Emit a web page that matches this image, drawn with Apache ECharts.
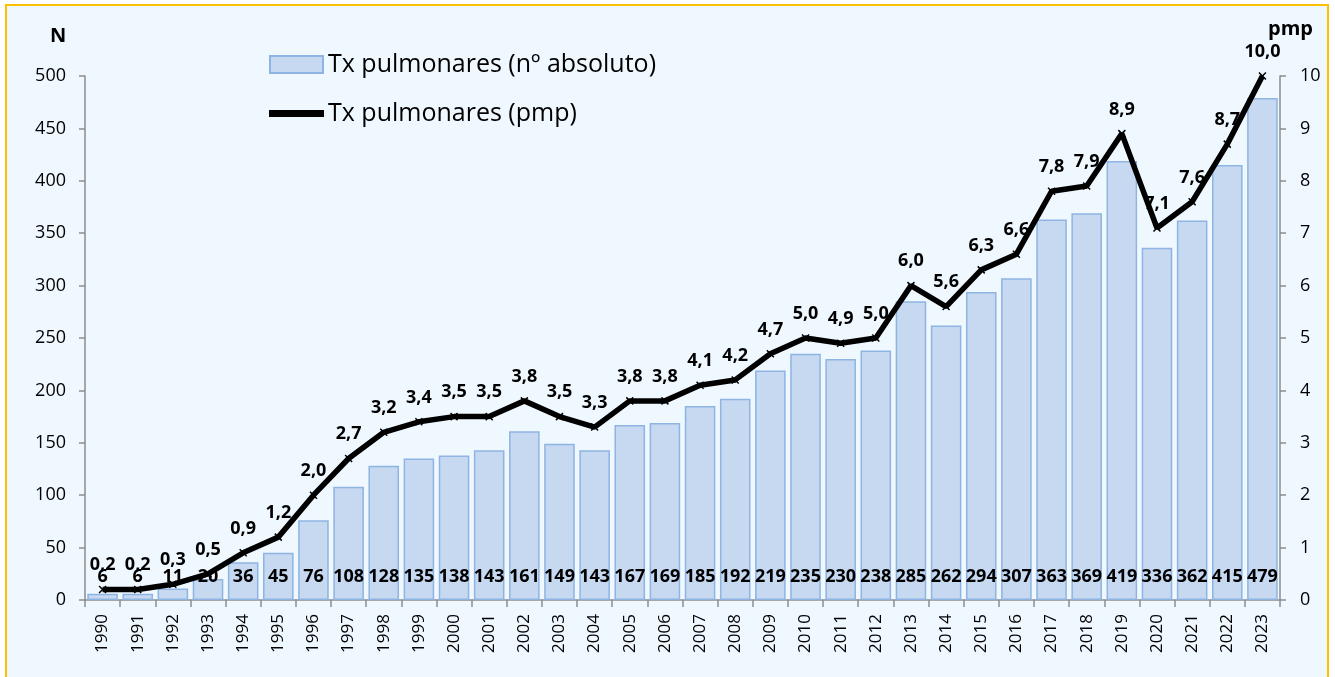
<!DOCTYPE html>
<html>
<head>
<meta charset="utf-8">
<script src="https://cdn.jsdelivr.net/npm/echarts@6/dist/echarts.min.js"></script>
<style>
html,body{margin:0;padding:0;background:#fff;}
#chart{width:1335px;height:677px;}
</style>
</head>
<body>
<div id="chart"></div>
<script>
const years = ['1990','1991','1992','1993','1994','1995','1996','1997','1998','1999','2000','2001','2002','2003','2004','2005','2006','2007','2008','2009','2010','2011','2012','2013','2014','2015','2016','2017','2018','2019','2020','2021','2022','2023'];
const txAbsolute = [6,6,11,20,36,45,76,108,128,135,138,143,161,149,143,167,169,185,192,219,235,230,238,285,262,294,307,363,369,419,336,362,415,479];
const txPmp = [0.2,0.2,0.3,0.5,0.9,1.2,2.0,2.7,3.2,3.4,3.5,3.5,3.8,3.5,3.3,3.8,3.8,4.1,4.2,4.7,5.0,4.9,5.0,6.0,5.6,6.3,6.6,7.8,7.9,8.9,7.1,7.6,8.7,10.0];
const leftTicks = {min:0,max:500,interval:50};
const rightTicks = {min:0,max:10,interval:1};
const seriesNames = ['Tx pulmonares (nº absoluto)','Tx pulmonares (pmp)'];

const FONT = '"Open Sans", sans-serif';
const AX = '#8c8c8c';
const chart = echarts.init(document.getElementById('chart'));
chart.setOption({
  backgroundColor:'#ffffff',
  animation:false,
  textStyle:{fontFamily:FONT},
  graphic:[
    {type:'rect',z:-10,shape:{x:6,y:5,width:1322,height:690},style:{fill:'#f0f8ff',stroke:'#ffc000',lineWidth:2}},
    {type:'text',left:50,top:26,style:{text:'N',font:'bold 20px '+FONT,fill:'#000'}},
    {type:'text',left:1268,top:19,style:{text:'pmp',font:'bold 20px '+FONT,fill:'#000'}}
  ],
  legend:[
    {left:264,top:47,itemWidth:53,itemHeight:17,itemGap:0,icon:'rect',
     textStyle:{fontSize:25,color:'#000',fontFamily:FONT},
     data:[seriesNames[0]]},
    {left:264,top:96,itemWidth:53,itemHeight:5,itemGap:0,icon:'rect',
     textStyle:{fontSize:25,color:'#000',fontFamily:FONT},
     data:[seriesNames[1]]}
  ],
  grid:{left:85,right:55,top:76,bottom:77},
  xAxis:{
    type:'category',data:years,
    axisLine:{lineStyle:{color:AX,width:1.5}},
    axisTick:{show:true,alignWithLabel:false,length:7,lineStyle:{color:AX,width:1.5}},
    axisLabel:{rotate:90,fontSize:17,color:'#000',margin:14,interval:0}
  },
  yAxis:[
    {type:'value',min:leftTicks.min,max:leftTicks.max,interval:leftTicks.interval,
     axisLine:{show:true,lineStyle:{color:AX,width:1.5}},
     axisTick:{show:true,length:6,lineStyle:{color:AX,width:1.5}},
     splitLine:{show:false},
     axisLabel:{fontSize:18,color:'#000',margin:19}},
    {type:'value',min:rightTicks.min,max:rightTicks.max,interval:rightTicks.interval,position:'right',
     axisLine:{show:true,lineStyle:{color:AX,width:1.5}},
     axisTick:{show:true,length:6,lineStyle:{color:AX,width:1.5}},
     splitLine:{show:false},
     axisLabel:{fontSize:18,color:'#000',margin:20}}
  ],
  series:[
    {name:seriesNames[0],type:'bar',data:txAbsolute,yAxisIndex:0,barCategoryGap:'13%',
     itemStyle:{color:'#c6d9f1',borderColor:'#8db4e2',borderWidth:1.5},
     label:{show:true,position:'insideBottom',distance:14,fontSize:18,fontWeight:'bold',color:'#000'},
     z:1},
    {name:seriesNames[1],type:'line',data:txPmp,yAxisIndex:1,
     symbol:'path://M0,0L10,10M10,0L0,10',symbolSize:7,showAllSymbol:true,
     lineStyle:{color:'#000',width:5.5},
     itemStyle:{color:'#000',borderColor:'#000',borderWidth:1.5},
     label:{show:true,position:'top',distance:11,fontSize:18,fontWeight:'bold',color:'#000',
       formatter:p=>p.value.toFixed(1).replace('.',',')},
     z:3}
  ]
});
</script>
</body>
</html>
